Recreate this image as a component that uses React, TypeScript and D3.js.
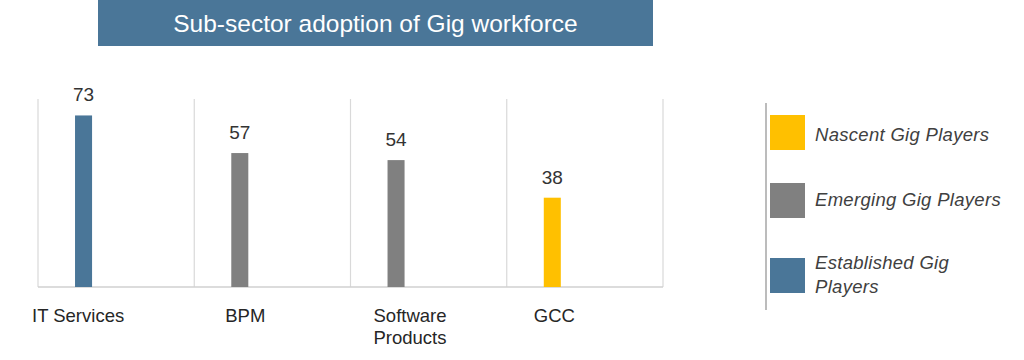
import React from "react";
import * as d3 from "d3";

const categories = ["IT Services", "BPM", "Software Products", "GCC"];
const values = [73, 57, 54, 38];
const groups = ["Established", "Emerging", "Emerging", "Nascent"];
const legendKeys = ["Nascent", "Emerging", "Established"];
const legendLabels = [["Nascent Gig Players"], ["Emerging Gig Players"], ["Established Gig", "Players"]];
const title = "Sub-sector adoption of Gig workforce";

const colorMap: Record<string, string> = {
  Nascent: "#ffc000",
  Emerging: "#808080",
  Established: "#4a7698",
};

// layout-only offsets for category labels (relative to band start)
const labelOffsets = [-6, 31, 23, 27];

export default function App() {
  const W = 1024;
  const H = 360;
  const x = d3.scaleBand<string>().domain(categories).range([38, 663]).padding(0);
  const y = d3.scaleLinear().domain([0, 80]).range([287, 99]);
  const bw = x.bandwidth();
  const barOff = bw * 0.237;
  const barW = bw * 0.109;
  const font = "'Liberation Sans', Arial, sans-serif";

  const legendBase = [141, 206, 269];
  const swatchY = [115, 183, 258];

  return (
    <svg
      width={W}
      height={H}
      style={{ position: "absolute", left: 0, top: 0, display: "block", background: "#fff" }}
      fontFamily={font}
    >
      <rect x={98} y={0} width={555} height={46} fill="#4a7698" />
      <text x={375.5} y={32} textAnchor="middle" fill="#ffffff" fontSize={24.5}>
        {title}
      </text>

      {categories.map((c) => (
        <line key={"g" + c} x1={x(c)!} x2={x(c)!} y1={y(80)} y2={y(0)} stroke="#d9d9d9" strokeWidth={1.2} />
      ))}
      <line x1={x.range()[1]} x2={x.range()[1]} y1={y(80)} y2={y(0)} stroke="#d9d9d9" strokeWidth={1.2} />
      <line x1={x.range()[0]} x2={x.range()[1]} y1={y(0)} y2={y(0)} stroke="#d0d0d0" strokeWidth={1.5} />

      {categories.map((c, i) => {
        const bx = x(c)! + barOff;
        return (
          <g key={c}>
            <rect x={bx} y={y(values[i])} width={barW} height={y(0) - y(values[i])} fill={colorMap[groups[i]]} />
            <text x={bx + barW / 2} y={y(values[i]) - 14} textAnchor="middle" fontSize={19} fill="#333333">
              {values[i]}
            </text>
          </g>
        );
      })}

      {categories.map((c, i) => {
        const words = c === "Software Products" ? ["Software", "Products"] : [c];
        return (
          <text key={"l" + c} x={x(c)! + labelOffsets[i]} y={322} fontSize={18.5} fill="#262626">
            {words.map((w, j) => (
              <tspan key={j} x={x(c)! + labelOffsets[i]} dy={j === 0 ? 0 : 21.5}>
                {w}
              </tspan>
            ))}
          </text>
        );
      })}

      <line x1={766} x2={766} y1={103} y2={310} stroke="#a6a6a6" strokeWidth={1.5} />
      {legendKeys.map((k, i) => (
        <g key={k}>
          <rect x={770} y={swatchY[i]} width={35} height={35} fill={colorMap[k]} />
          <text x={815} y={legendBase[i]} fontSize={18.5} fontStyle="italic" fill="#404040" letterSpacing={0.3}>
            {legendLabels[i].map((t, j) => (
              <tspan key={j} x={815} dy={j === 0 ? 0 : 24}>
                {t}
              </tspan>
            ))}
          </text>
        </g>
      ))}
    </svg>
  );
}
